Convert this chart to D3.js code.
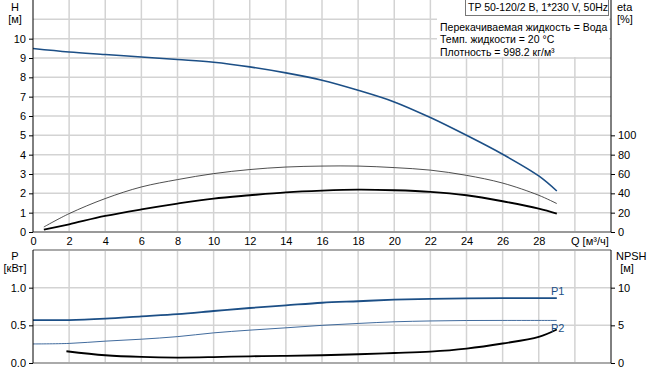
<!DOCTYPE html>
<html>
<head>
<meta charset="utf-8">
<script src="https://cdn.jsdelivr.net/npm/d3@7"></script>
<style>
  body { margin: 0; background: #fff; }
  text { font-family: "Liberation Sans", Arial, sans-serif; font-size: 11px; fill: #000; }
</style>
</head>
<body>
<div id="chart"></div>
<script>
// flow values (m3/h)
var qVals   = [0, 2, 4, 6, 8, 10, 12, 14, 16, 18, 20, 22, 24, 26, 28, 29];
var headH   = [9.49, 9.31, 9.18, 9.05, 8.92, 8.78, 8.54, 8.23, 7.85, 7.33, 6.73, 5.92, 5.0, 4.02, 2.9, 2.12];

var qEta    = [0.6, 2, 4, 6, 8, 10, 12, 14, 16, 18, 20, 22, 24, 26, 28, 29];
var etaThin = [5.2, 19, 34.6, 46.6, 54.2, 60.4, 64.6, 67.2, 68.2, 68.2, 66.6, 64.0, 58.6, 50.6, 38.0, 29.4];
var etaThick= [2.4, 8.0, 16.6, 23.4, 29.4, 34.6, 38.0, 41.0, 42.8, 43.8, 43.2, 41.6, 38.0, 31.8, 24.2, 19.0];

var powerP1 = [0.57, 0.57, 0.59, 0.62, 0.65, 0.69, 0.73, 0.765, 0.80, 0.82, 0.84, 0.852, 0.858, 0.86, 0.86, 0.86];
var powerP2 = [0.253, 0.26, 0.29, 0.316, 0.35, 0.40, 0.436, 0.467, 0.50, 0.525, 0.547, 0.558, 0.564, 0.565, 0.565, 0.565];

var qNpsh   = [1.85, 4, 6, 8, 10, 12, 14, 16, 18, 20, 22, 24, 26, 28, 29];
var npsh    = [1.56, 1.03, 0.80, 0.72, 0.78, 0.89, 0.94, 1.03, 1.16, 1.33, 1.52, 1.92, 2.59, 3.47, 4.45];

var qTicks    = [0, 2, 4, 6, 8, 10, 12, 14, 16, 18, 20, 22, 24, 26, 28];
var hTicks    = [0, 1, 2, 3, 4, 5, 6, 7, 8, 9, 10];
var etaTicks  = [0, 20, 40, 60, 80, 100];
var pTicks    = [0, 0.5, 1.0];
var npshTicks = [0, 5, 10];

var infoLines = ["Перекачиваемая жидкость = Вода", "Темп. жидкости = 20 °C", "Плотность = 998.2 кг/м³"];
var title = "TP 50-120/2 B, 1*230 V, 50Hz";

var width = 650, height = 371;
var left = 33, right = 611;

var svg = d3.select("#chart").append("svg")
  .attr("width", width)
  .attr("height", height);

var x = d3.scaleLinear().domain([0, 32]).range([left, right]);
var yH = d3.scaleLinear().domain([0, 12]).range([232, 0]);
var yEta = d3.scaleLinear().domain([0, 240]).range([232, 0]);
var yP = d3.scaleLinear().domain([0, 1.5]).range([363, 250]);
var yN = d3.scaleLinear().domain([0, 15]).range([363, 250]);

var gridColor = "#d3d3d3";
var gridQ = d3.range(2, 31, 2);

// grid lines, top chart
svg.append("g").selectAll("line").data(gridQ).enter().append("line")
  .attr("x1", function(d) { return x(d); }).attr("x2", function(d) { return x(d); })
  .attr("y1", 0).attr("y2", 232)
  .attr("stroke", gridColor).attr("stroke-width", 1.5);
svg.append("g").selectAll("line").data(d3.range(1, 12)).enter().append("line")
  .attr("x1", left).attr("x2", right)
  .attr("y1", function(d) { return yH(d); }).attr("y2", function(d) { return yH(d); })
  .attr("stroke", gridColor).attr("stroke-width", 1.5);

// grid lines, bottom chart
svg.append("g").selectAll("line").data(gridQ).enter().append("line")
  .attr("x1", function(d) { return x(d); }).attr("x2", function(d) { return x(d); })
  .attr("y1", 250).attr("y2", 363)
  .attr("stroke", gridColor).attr("stroke-width", 1.5);
svg.append("g").selectAll("line").data([0.5, 1.0]).enter().append("line")
  .attr("x1", left).attr("x2", right)
  .attr("y1", function(d) { return yP(d); }).attr("y2", function(d) { return yP(d); })
  .attr("stroke", gridColor).attr("stroke-width", 1.5);

// white boxes with the text
svg.append("rect").attr("x", 437).attr("y", 15).attr("width", 172).attr("height", 42).attr("fill", "#fff");
svg.append("rect").attr("x", 465.5).attr("y", -1).attr("width", 143).attr("height", 16.5)
  .attr("fill", "#fff").attr("stroke", "#777").attr("stroke-width", 1);
svg.append("text").attr("x", 468).attr("y", 11).style("font-size", "10.5px").text(title);
svg.append("g").selectAll("text").data(infoLines).enter().append("text")
  .attr("x", 440)
  .attr("y", function(d, i) { return 30.5 + i * 12.5; })
  .style("font-size", "10.5px")
  .text(function(d) { return d; });

// curves
var line = d3.line().curve(d3.curveCatmullRom.alpha(0.5));

function draw(xs, ys, sx, sy, color, w) {
  var pts = xs.map(function(q, i) { return [sx(q), sy(ys[i])]; });
  svg.append("path").attr("d", line(pts))
    .attr("fill", "none").attr("stroke", color).attr("stroke-width", w);
}

draw(qVals, headH, x, yH, "#1c4f86", 1.6);
draw(qEta, etaThin, x, yEta, "#222", 0.8);
draw(qEta, etaThick, x, yEta, "#000", 1.8);
draw(qVals, powerP1, x, yP, "#1c4f86", 1.8);
draw(qVals, powerP2, x, yP, "#2b5a92", 0.9);
draw(qNpsh, npsh, x, yN, "#000", 1.8);

svg.append("text").attr("x", 551).attr("y", 295).style("fill", "#1c4f86").text("P1");
svg.append("text").attr("x", 551).attr("y", 332).style("fill", "#1c4f86").text("P2");

// axes
function styleAxis(g) {
  g.select(".domain").remove();
  g.selectAll(".tick line").attr("stroke", "#000");
  g.selectAll(".tick text").style("font-family", "Liberation Sans, Arial, sans-serif").style("font-size", "11px").attr("fill", "#000");
}

svg.append("g").attr("transform", "translate(" + left + ",0)")
  .call(d3.axisLeft(yH).tickValues(hTicks).tickSize(4).tickPadding(3).tickFormat(d3.format("d")))
  .call(styleAxis);
svg.append("g").attr("transform", "translate(" + right + ",0)")
  .call(d3.axisRight(yEta).tickValues(etaTicks).tickSize(4).tickPadding(3).tickFormat(d3.format("d")))
  .call(styleAxis);
svg.append("g").attr("transform", "translate(" + left + ",0)")
  .call(d3.axisLeft(yP).tickValues(pTicks).tickSize(4).tickPadding(3).tickFormat(d3.format(".1f")))
  .call(styleAxis);
svg.append("g").attr("transform", "translate(" + right + ",0)")
  .call(d3.axisRight(yN).tickValues(npshTicks).tickSize(4).tickPadding(3).tickFormat(d3.format("d")))
  .call(styleAxis);
svg.append("g").attr("transform", "translate(0,232)")
  .call(d3.axisBottom(x).tickValues(qTicks).tickSize(0).tickPadding(5).tickFormat(d3.format("d")))
  .call(styleAxis);

// frame lines
svg.append("line").attr("x1", left).attr("x2", right).attr("y1", 232).attr("y2", 232).attr("stroke", "#999").attr("stroke-width", 2);
svg.append("line").attr("x1", left).attr("x2", right).attr("y1", 250).attr("y2", 250).attr("stroke", "#aaa").attr("stroke-width", 2);
svg.append("line").attr("x1", left).attr("x2", right).attr("y1", 363).attr("y2", 363).attr("stroke", "#aaa").attr("stroke-width", 2);
[[0, 232], [250, 363]].forEach(function(r) {
  svg.append("line").attr("x1", left).attr("x2", left).attr("y1", r[0]).attr("y2", r[1]).attr("stroke", "#000");
  svg.append("line").attr("x1", right).attr("x2", right).attr("y1", r[0]).attr("y2", r[1]).attr("stroke", "#000");
});

// axis titles
function label(xp, yp, txt, anchor) {
  svg.append("text").attr("x", xp).attr("y", yp).attr("text-anchor", anchor || "middle").text(txt);
}
label(15, 11, "H");
label(15, 23, "[м]");
label(617, 11, "eta", "start");
label(617, 23, "[%]", "start");
label(15, 260, "P");
label(15, 272, "[кВт]");
label(616, 260, "NPSH", "start");
label(627, 272, "[м]");
label(571, 245, "Q [м³/ч]", "start");
</script>
</body>
</html>
